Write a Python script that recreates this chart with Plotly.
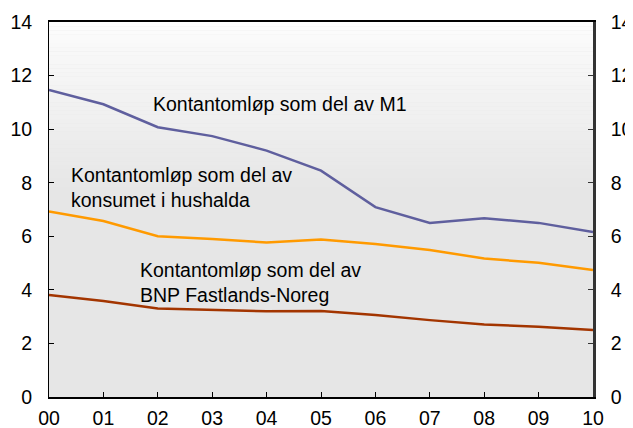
import plotly.graph_objects as go

years = ["00", "01", "02", "03", "04", "05", "06", "07", "08", "09", "10"]
m1 = [11.46, 10.93, 10.07, 9.74, 9.2, 8.45, 7.09, 6.5, 6.67, 6.5, 6.16]
konsum = [6.93, 6.57, 6.0, 5.9, 5.77, 5.88, 5.71, 5.49, 5.17, 5.01, 4.74]
bnp = [3.81, 3.58, 3.30, 3.25, 3.2, 3.21, 3.06, 2.87, 2.71, 2.62, 2.5]
yticks = [0, 2, 4, 6, 8, 10, 12, 14]

xs = list(range(len(years)))
FONT = "Liberation Sans, Arial, sans-serif"
TS = 19.5
LS = 19.5

fig = go.Figure()
fig.add_trace(go.Scatter(x=xs, y=m1, mode="lines", line=dict(color="#5F5F9E", width=2.5), showlegend=False))
fig.add_trace(go.Scatter(x=xs, y=konsum, mode="lines", line=dict(color="#FF9A00", width=2.5), showlegend=False))
fig.add_trace(go.Scatter(x=xs, y=bnp, mode="lines", line=dict(color="#A33500", width=2.5), showlegend=False))
fig.add_trace(go.Scatter(x=[0], y=[0], yaxis="y2", mode="markers", marker=dict(opacity=0), showlegend=False, hoverinfo="skip"))

# gradient background
shapes = []
n = 40
y0, y1 = 0.55, 1.0
c_top, c_bot = 252, 230
for i in range(n):
    a = y0 + (y1 - y0) * i / n
    b = y0 + (y1 - y0) * (i + 1) / n
    t = (i + 0.5) / n
    c = round(c_bot + (c_top - c_bot) * t)
    shapes.append(dict(type="rect", xref="paper", yref="paper", x0=0, x1=1, y0=a, y1=b,
                       fillcolor=f"rgb({c},{c},{c})", line=dict(width=0), layer="below"))

fig.update_layout(
    width=625, height=420,
    margin=dict(l=41, r=40, t=14, b=31),
    paper_bgcolor="white",
    plot_bgcolor="rgb(230,230,230)",
    shapes=shapes,
    font=dict(family=FONT, size=LS, color="black"),
    xaxis=dict(range=[0, 10], tickvals=xs, ticktext=years, showgrid=False, zeroline=False,
               showline=True, linecolor="black", linewidth=1.5, mirror=True,
               ticks="inside", ticklen=5, tickcolor="black", tickwidth=1,
               tickfont=dict(size=TS), automargin=False, ticklabelstandoff=3),
    yaxis=dict(range=[0, 14], tickvals=yticks, showgrid=False, zeroline=False,
               showline=True, linecolor="black", linewidth=1,
               ticks="inside", ticklen=5, tickcolor="black", tickwidth=1,
               tickfont=dict(size=TS), ticklabelstandoff=12, automargin=False),
    yaxis2=dict(range=[0, 14], tickvals=yticks, overlaying="y", side="right", showgrid=False,
                zeroline=False, showline=True, linecolor="#333333", linewidth=2.5,
                ticks="inside", ticklen=5, tickcolor="#333333", tickwidth=1,
                tickfont=dict(size=TS), ticklabelstandoff=11, automargin=False),
    annotations=[
        dict(x=1.87, y=10.93, xref="x", yref="y", text="Kontantomløp som del av M1",
             showarrow=False, xanchor="left", yanchor="middle", font=dict(size=LS)),
        dict(x=0.37, y=7.84, xref="x", yref="y", text="Kontantomløp som del av<br>konsumet i hushalda",
             showarrow=False, xanchor="left", yanchor="middle", align="left", font=dict(size=LS)),
        dict(x=1.64, y=4.29, xref="x", yref="y", text="Kontantomløp som del av<br>BNP Fastlands-Noreg",
             showarrow=False, xanchor="left", yanchor="middle", align="left", font=dict(size=LS)),
    ],
)

fig.write_html("out.html")
